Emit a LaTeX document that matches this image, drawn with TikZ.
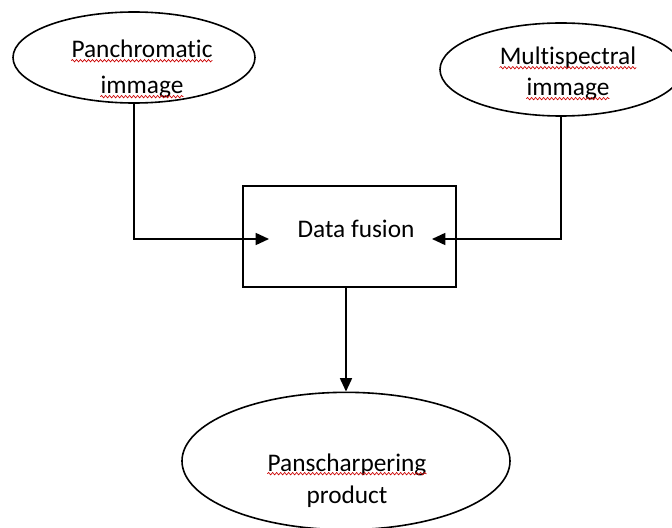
\documentclass[tikz,border=0pt]{standalone}
\usepackage{fontspec}
\setmainfont{Carlito}[Ligatures={NoCommon,NoContextual}]
\usetikzlibrary{shapes.geometric,arrows.meta,decorations.pathmorphing}
\begin{document}
\begin{tikzpicture}[x=0.75pt,y=-0.75pt,
  ell/.style={draw, ellipse, line width=1.2pt, inner sep=0pt},
  boxst/.style={draw, rectangle, line width=1.2pt, inner sep=0pt},
  lbl/.style={anchor=base, inner sep=0pt, font=\fontsize{19}{23}\selectfont},
  conn/.style={line width=1.2pt, -{Triangle[length=10pt,width=9pt]}},
  squig/.style={draw=red!80!black, line width=0.5pt, decorate, decoration={snake, amplitude=0.9pt, segment length=3pt}}]
\clip (0,0) rectangle (672,528);
\node[ell, minimum width=181.5pt, minimum height=68.25pt] (pan) at (134,57.5) {};
\node[ell, minimum width=181.5pt, minimum height=69.75pt] (mul) at (561,69.5) {};
\node[boxst, minimum width=159.75pt, minimum height=75.75pt] (fus) at (349.5,236.5) {};
\node[ell, minimum width=246pt, minimum height=103pt] (prod) at (346,461) {};
\node[lbl] (t1) at (142,58) {Panchromatic};
\node[lbl] (t2) at (142,94) {immage};
\node[lbl] (t3) at (568,65) {Multispectral};
\node[lbl] (t4) at (568,96) {immage};
\node[lbl] (t5) at (356,237) {Data fusion};
\node[lbl] (t6) at (347,471) {Panscharpering};
\node[lbl] (t7) at (347,503) {product};
\foreach \t in {t1,t2,t3,t4,t6}
  \draw[squig] ([yshift=-2pt]\t.base west) -- ([yshift=-2pt]\t.base east);
\coordinate (lt) at (269,239);
\coordinate (rt) at (432,239);
\draw[conn] (pan.south) |- (lt);
\draw[conn] (mul.south) |- (rt);
\draw[conn] (fus.south -| prod.north) -- (prod.north);
\end{tikzpicture}
\end{document}
